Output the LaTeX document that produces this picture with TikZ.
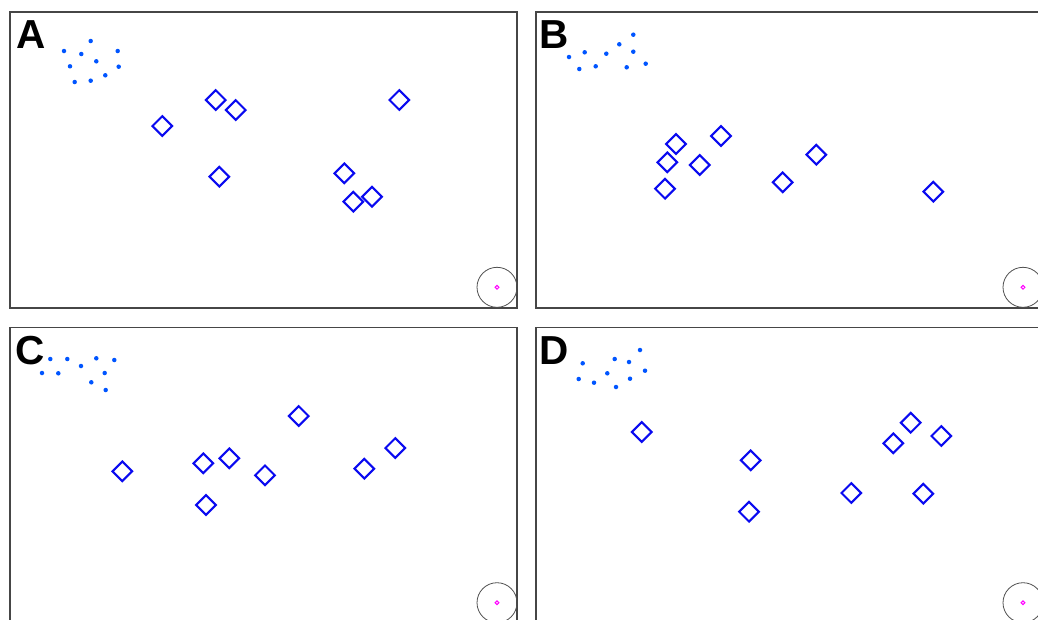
\documentclass[tikz,border=0pt]{standalone}
\usepackage{fontspec}
\setmainfont{Liberation Sans}
\usetikzlibrary{shapes.geometric}
\definecolor{frame}{RGB}{70,70,70}
\definecolor{dotblue}{RGB}{0,85,255}
\definecolor{diamblue}{RGB}{10,10,240}
\definecolor{ringgray}{RGB}{80,80,80}
\definecolor{mag}{RGB}{255,0,255}
\tikzset{
  panelbox/.style={draw=frame,line width=1.4pt},
  dotnode/.style={circle,fill=dotblue,inner sep=0pt,minimum size=4.5pt},
  diam/.style={diamond,draw=diamblue,line width=2.1pt,inner sep=0pt,minimum width=20.5pt,minimum height=20.5pt},
  ring/.style={circle,draw=ringgray,line width=0.8pt,inner sep=0pt,minimum size=40pt},
  centre/.style={circle,draw=mag,line width=1pt,inner sep=0pt,minimum size=3.8pt},
  plabel/.style={anchor=base west,inner sep=0pt,font=\fontsize{40.5}{40.5}\selectfont\bfseries}
}
\begin{document}
\begin{tikzpicture}[x=1pt,y=-1pt]
\useasboundingbox (0,0) rectangle (1038,619);
\clip (0,0) rectangle (1038,619);
\fill[white] (0,0) rectangle (1038,619);
% frames
\draw[panelbox] (10,12) rectangle (517,308);
\draw[panelbox] (536,12) rectangle (1043,308);
\draw[panelbox] (10,327.4) rectangle (517,623.4);
\draw[panelbox] (536,327.4) rectangle (1043,623.4);
% labels
\node[plabel] (labA) at (16,48.5) {A};
\node[plabel] (labB) at (539,48.5) {B};
\node[plabel] (labC) at (15,364) {C};
\node[plabel] (labD) at (539,364) {D};
% rings
\node[ring] (ringA) at (497,287.3) {};
\node[centre] (cenA) at (497,287.3) {};
\node[ring] (ringB) at (1023,287.3) {};
\node[centre] (cenB) at (1023,287.3) {};
\node[ring] (ringC) at (497,602.7) {};
\node[centre] (cenC) at (497,602.7) {};
\node[ring] (ringD) at (1023,602.7) {};
\node[centre] (cenD) at (1023,602.7) {};
% dots A
\foreach \x/\y [count=\i] in {90.7/41,64/51,81.3/54,117.7/51,96.3/61.3,70/66.3,118.7/66.7,105.3/75.3,90.7/80.7,74.7/82}
  \node[dotnode] (dA\i) at (\x,\y) {};
% dots B
\foreach \x/\y [count=\i] in {633.3/34.7,619.3/44.3,584.7/52.3,633.3/51.7,606.3/53.7,569/57,645.7/63.7,595.7/66.3,626.7/67.3,579.3/69}
  \node[dotnode] (dB\i) at (\x,\y) {};
% dots C
\foreach \x/\y [count=\i] in {50.3/359,67.3/359,96.3/358.3,114.3/360,81/366,42/373,58.3/373.3,104.7/373,91.3/382.3,105.7/390}
  \node[dotnode] (dC\i) at (\x,\y) {};
% dots D
\foreach \x/\y [count=\i] in {640/350,614.7/359,629/362,582.7/363.3,645/370.7,607.3/373.3,578.7/379,630/378.7,594/382.7,616/387}
  \node[dotnode] (dD\i) at (\x,\y) {};
% diamonds A
\foreach \x/\y [count=\i] in {162.3/126,215.7/100,235.7/110,219.3/176.7,399.3/100,344.3/173.3,353.3/201.7,372/196.7}
  \node[diam] (qA\i) at (\x,\y) {};
% diamonds B
\foreach \x/\y [count=\i] in {676/144,721/136,667.3/162.3,699.7/165,665/188.7,816.3/154.7,782.7/182.3,933.3/191.7}
  \node[diam] (qB\i) at (\x,\y) {};
% diamonds C
\foreach \x/\y [count=\i] in {298.7/416,122.3/471.3,203.3/463.3,229.3/458.3,265/475.3,206/505,364.3/468.7,395.3/448}
  \node[diam] (qC\i) at (\x,\y) {};
% diamonds D
\foreach \x/\y [count=\i] in {641.7/432,750.7/460.3,749/511.7,910.7/422.7,893.3/443.3,941.3/436,851.3/493,923.3/493.7}
  \node[diam] (qD\i) at (\x,\y) {};
\end{tikzpicture}
\end{document}
